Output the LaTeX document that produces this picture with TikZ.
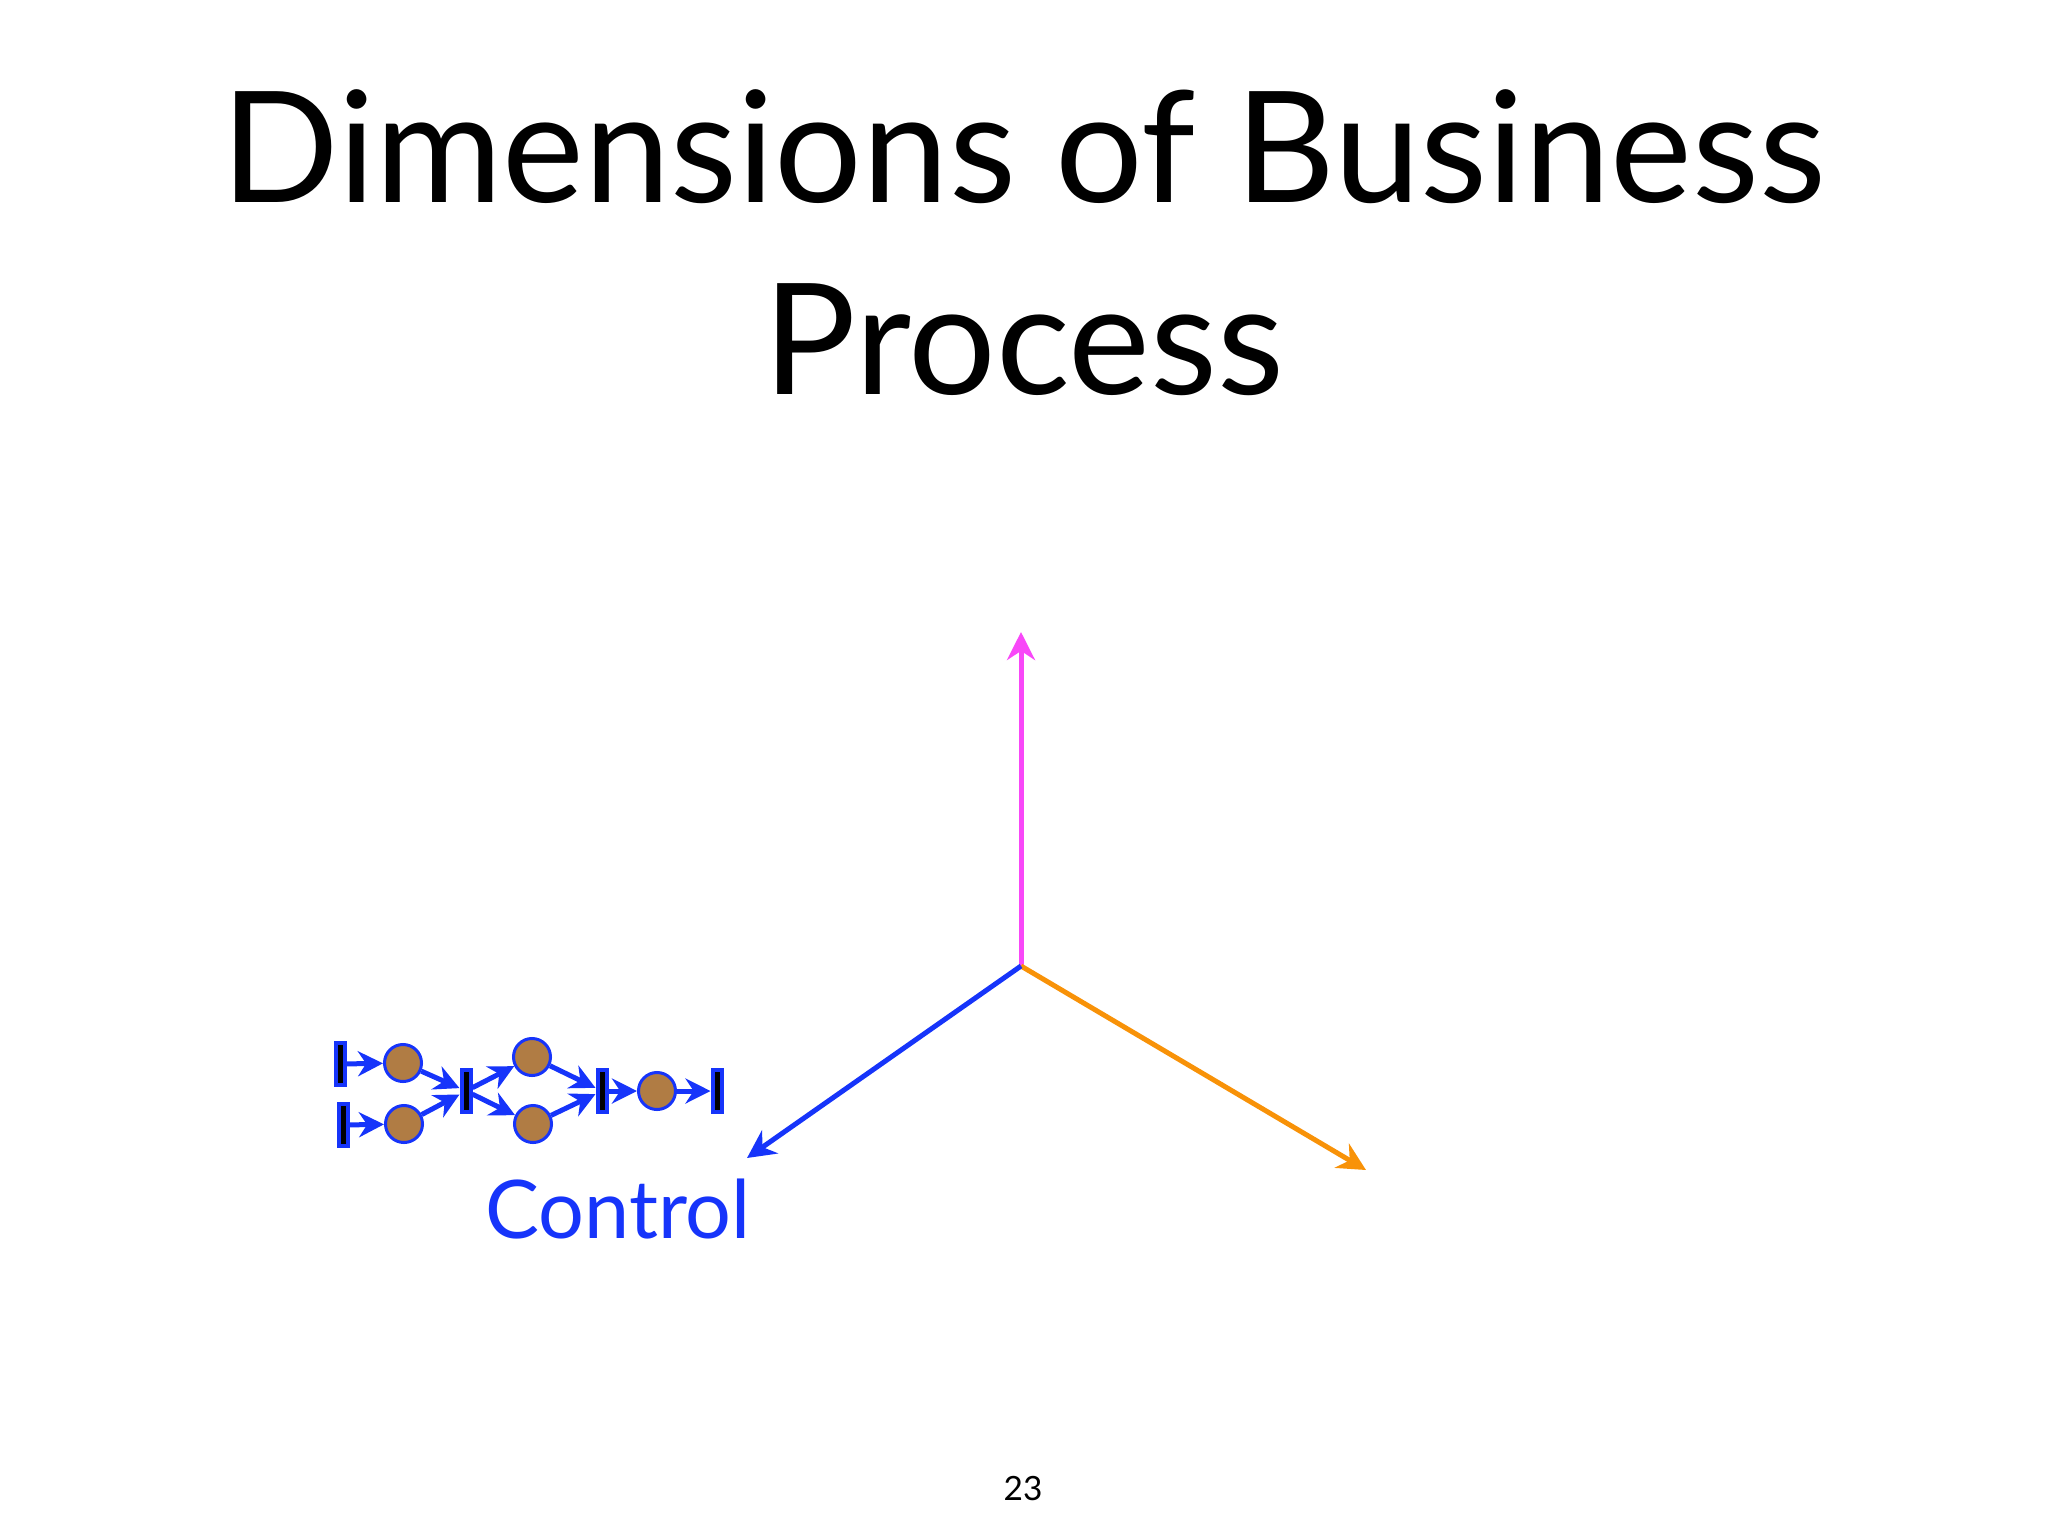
\documentclass[tikz,border=0pt]{standalone}
\usepackage{fontspec}
\setmainfont{Lato}
\usetikzlibrary{arrows.meta}
\definecolor{ctrlblue}{RGB}{22,52,250}
\definecolor{axispink}{RGB}{248,72,248}
\definecolor{axisorange}{RGB}{248,146,8}
\definecolor{placebrown}{RGB}{176,124,68}

\begin{document}
\begin{tikzpicture}[x=0.01cm, y=-0.01cm,
		place/.style={circle, draw=ctrlblue, fill=placebrown, line width=0.03cm, minimum size=0.37cm, inner sep=0pt},
		trans/.style={rectangle, draw=ctrlblue, fill=black, line width=0.04cm, minimum width=0.09cm, minimum height=0.42cm, inner sep=0pt},
		flow/.style={ctrlblue, line width=0.05cm, -{Stealth[length=0.25cm, width=0.25cm]}},
		axis/.style={line width=0.05cm, -{Stealth[length=0.28cm, width=0.28cm]}}]
		\useasboundingbox (0,0) rectangle (2048,1536);
		\node[anchor=base, align=center, font=\fontsize{44}{54.6}\selectfont] (title) at (1024,394) {Dimensions of Business\\Process};

		\coordinate (o) at (1021,966);
		\coordinate (up) at (1021,632);
		\coordinate (left) at (747,1158);
		\coordinate (right) at (1366,1170);
		\draw[axis, axispink] (o) -- (up);
		\draw[axis, axisorange] (o) -- (right);
		\draw[axis, ctrlblue] (o) -- (left);

		\node[trans] (t1) at (340,1064) {};
		\node[trans] (t2) at (343,1125) {};
		\node[trans] (t3) at (466,1091) {};
		\node[trans] (t4) at (602,1091) {};
		\node[trans] (t5) at (717,1091) {};
		\node[place] (p1) at (403,1063) {};
		\node[place] (p2) at (404,1124) {};
		\node[place] (p3) at (532,1057) {};
		\node[place] (p4) at (533,1124) {};
		\node[place] (p5) at (657,1091) {};
		\draw[flow] (t1) -- (p1);
		\draw[flow] (t2) -- (p2);
		\draw[flow] (p1) -- (t3);
		\draw[flow] (p2) -- (t3);
		\draw[flow] (t3) -- (p3);
		\draw[flow] (t3) -- (p4);
		\draw[flow] (p3) -- (t4);
		\draw[flow] (p4) -- (t4);
		\draw[flow] (t4) -- (p5);
		\draw[flow] (p5) -- (t5);

		\node[anchor=base, text=ctrlblue, font=\fontsize{23}{28}\selectfont] (ctrl) at (618,1238) {Control};
		\node[anchor=base, font=\fontsize{9.5}{11}\selectfont] (pagenum) at (1023,1500) {23};
	\end{tikzpicture}
\end{document}
